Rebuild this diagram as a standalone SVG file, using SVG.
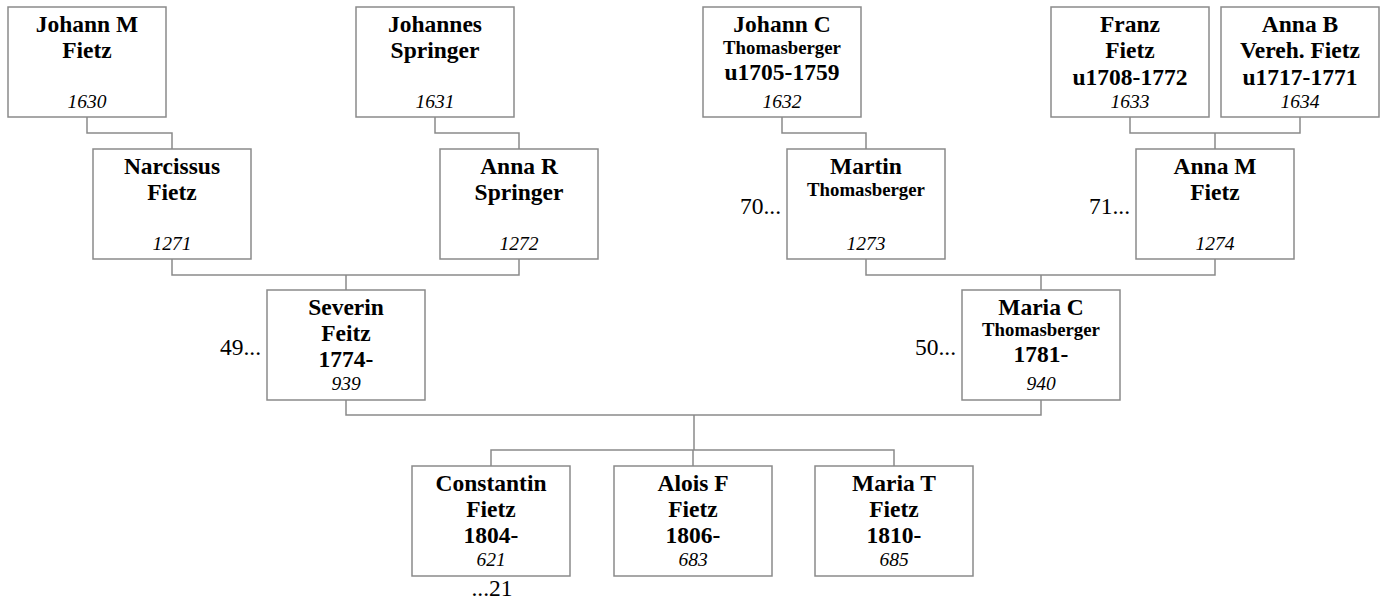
<svg xmlns="http://www.w3.org/2000/svg" width="1383" height="604" viewBox="0 0 1383 604">
<style>
.box{fill:#fff;stroke:#8a8a8a;stroke-width:1.5}
.con{fill:none;stroke:#8a8a8a;stroke-width:1.5}
text{font-family:"Liberation Serif","Times New Roman",serif;fill:#000;text-anchor:middle}
.n{font-weight:bold;font-size:23.5px}
.s{font-weight:bold;font-size:18.8px}
.i{font-style:italic;font-size:19.5px}
.side{font-size:23.5px;text-anchor:end}
.below{font-size:23.5px}
</style>
<rect width="1383" height="604" fill="#fff"/>
<g id="connectors">
<path class="con" d="M87,117V133H172V149"/>
<path class="con" d="M435,117V133H519V149"/>
<path class="con" d="M782,117V133H866V149"/>
<path class="con" d="M1130,117V133H1300V117M1215,133V149"/>
<path class="con" d="M172,259V275H519V259M346,275V290"/>
<path class="con" d="M866,259V275H1215V259M1041,275V290"/>
<path class="con" d="M346,400V415H1041V400M694,415V450"/>
<path class="con" d="M491,466V450H894V466M693,450V466"/>
</g>
<g id="n1630"><rect class="box" x="8" y="7" width="158" height="110"/><text class="n" x="87" y="32">Johann M</text><text class="n" x="87" y="58">Fietz</text><text class="i" x="87" y="108">1630</text></g>
<g id="n1631"><rect class="box" x="356" y="7" width="158" height="110"/><text class="n" x="435" y="32">Johannes</text><text class="n" x="435" y="58">Springer</text><text class="i" x="435" y="108">1631</text></g>
<g id="n1632"><rect class="box" x="703" y="7" width="158" height="110"/><text class="n" x="782" y="32">Johann C</text><text class="s" x="782" y="54">Thomasberger</text><text class="n" x="782" y="80">u1705-1759</text><text class="i" x="782" y="108">1632</text></g>
<g id="n1633"><rect class="box" x="1051" y="7" width="158" height="110"/><text class="n" x="1130" y="32">Franz</text><text class="n" x="1130" y="58">Fietz</text><text class="n" x="1130" y="85">u1708-1772</text><text class="i" x="1130" y="108">1633</text></g>
<g id="n1634"><rect class="box" x="1221" y="7" width="158" height="110"/><text class="n" x="1300" y="32">Anna B</text><text class="n" x="1300" y="58">Vereh. Fietz</text><text class="n" x="1300" y="85">u1717-1771</text><text class="i" x="1300" y="108">1634</text></g>
<g id="n1271"><rect class="box" x="93" y="149" width="158" height="110"/><text class="n" x="172" y="174">Narcissus</text><text class="n" x="172" y="200">Fietz</text><text class="i" x="172" y="250">1271</text></g>
<g id="n1272"><rect class="box" x="440" y="149" width="158" height="110"/><text class="n" x="519" y="174">Anna R</text><text class="n" x="519" y="200">Springer</text><text class="i" x="519" y="250">1272</text></g>
<g id="n1273"><rect class="box" x="787" y="149" width="158" height="110"/><text class="n" x="866" y="174">Martin</text><text class="s" x="866" y="196">Thomasberger</text><text class="i" x="866" y="250">1273</text><text class="side" x="781" y="214">70...</text></g>
<g id="n1274"><rect class="box" x="1136" y="149" width="158" height="110"/><text class="n" x="1215" y="174">Anna M</text><text class="n" x="1215" y="200">Fietz</text><text class="i" x="1215" y="250">1274</text><text class="side" x="1130" y="214">71...</text></g>
<g id="n939"><rect class="box" x="267" y="290" width="158" height="110"/><text class="n" x="346" y="315">Severin</text><text class="n" x="346" y="341">Feitz</text><text class="n" x="346" y="367">1774-</text><text class="i" x="346" y="390">939</text><text class="side" x="261" y="355">49...</text></g>
<g id="n940"><rect class="box" x="962" y="290" width="158" height="110"/><text class="n" x="1041" y="315">Maria C</text><text class="s" x="1041" y="336">Thomasberger</text><text class="n" x="1041" y="362">1781-</text><text class="i" x="1041" y="390">940</text><text class="side" x="956" y="355">50...</text></g>
<g id="n621"><rect class="box" x="412" y="466" width="158" height="110"/><text class="n" x="491" y="491">Constantin</text><text class="n" x="491" y="517">Fietz</text><text class="n" x="491" y="543">1804-</text><text class="i" x="491" y="566">621</text><text class="below" x="492" y="596">...21</text></g>
<g id="n683"><rect class="box" x="614" y="466" width="158" height="110"/><text class="n" x="693" y="491">Alois F</text><text class="n" x="693" y="517">Fietz</text><text class="n" x="693" y="543">1806-</text><text class="i" x="693" y="566">683</text></g>
<g id="n685"><rect class="box" x="815" y="466" width="158" height="110"/><text class="n" x="894" y="491">Maria T</text><text class="n" x="894" y="517">Fietz</text><text class="n" x="894" y="543">1810-</text><text class="i" x="894" y="566">685</text></g>
</svg>
